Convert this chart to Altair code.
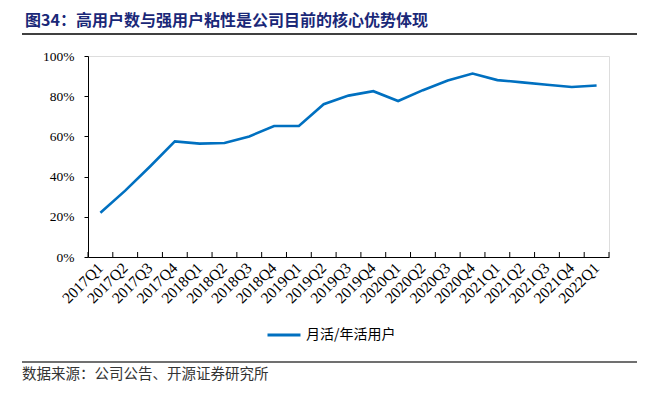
import altair as alt
import pandas as pd

quarters = ["2017Q1", "2017Q2", "2017Q3", "2017Q4", "2018Q1", "2018Q2", "2018Q3",
            "2018Q4", "2019Q1", "2019Q2", "2019Q3", "2019Q4", "2020Q1", "2020Q2",
            "2020Q3", "2020Q4", "2021Q1", "2021Q2", "2021Q3", "2021Q4", "2022Q1"]
ratio = [0.22, 0.33, 0.45, 0.575, 0.564, 0.567, 0.60, 0.652, 0.652, 0.76, 0.803,
         0.825, 0.776, 0.83, 0.878, 0.913, 0.88, 0.869, 0.857, 0.846, 0.853]
series_name = "月活/年活用户"
y_ticks = [0, 0.2, 0.4, 0.6, 0.8, 1.0]
title_text = "图34：高用户数与强用户粘性是公司目前的核心优势体现"
source_text = "数据来源：公司公告、开源证券研究所"

df = pd.DataFrame({"quarter": quarters, "ratio": ratio, "series": series_name})

W, H = 521, 201
CJK = "Noto Sans CJK SC"
SERIF = "Liberation Serif"

x_enc = alt.X("quarter:N", sort=quarters, bandPosition=0.5,
              scale=alt.Scale(type="band", paddingInner=0, paddingOuter=0),
              axis=alt.Axis(title=None, ticks=False, domain=True, domainColor="#000000",
                            labelAngle=315, labelAlign="right", labelBaseline="middle",
                            labelPadding=8, labelFont=SERIF, labelFontSize=15.5,
                            labelFontWeight="normal", labelColor="#000000", grid=False))
y_enc = alt.Y("ratio:Q", scale=alt.Scale(domain=[0, 1], nice=False),
              axis=alt.Axis(title=None, values=y_ticks, format=".0%", grid=False,
                            domainColor="#000000", tickColor="#000000", tickSize=4,
                            labelPadding=10, labelFont=SERIF, labelFontSize=13.5,
                            labelFontWeight="normal", labelColor="#000000"))

line = alt.Chart(df).mark_line(strokeWidth=2.6).encode(
    x=x_enc,
    y=y_enc,
    color=alt.Color("series:N", scale=alt.Scale(range=["#0070C0"]),
                    legend=alt.Legend(title=None, orient="none", legendX=178, legendY=261,
                                      symbolType="stroke", symbolSize=1089,
                                      symbolStrokeWidth=3, labelFont=CJK,
                                      labelFontSize=14, labelColor="#000000",
                                      labelOffset=4)),
)

ticks = alt.Chart(df).mark_rule(color="#000000", strokeWidth=1).encode(
    x=alt.X("quarter:N", sort=quarters, bandPosition=0),
    y=alt.value(H - 5),
    y2=alt.value(H),
)
end_tick = alt.Chart(df.head(1)).mark_rule(color="#000000", strokeWidth=1).encode(
    x=alt.value(W), y=alt.value(H - 5), y2=alt.value(H))

title = alt.Chart(df.head(1)).mark_text(
    text=title_text, font=CJK, fontSize=16, fontWeight="bold", color="#1A2878",
    align="left", baseline="middle").encode(x=alt.value(-63), y=alt.value(-35))
top_rule = alt.Chart(df.head(1)).mark_rule(color="#404040", strokeWidth=2).encode(
    x=alt.value(-66), x2=alt.value(549), y=alt.value(-22))
bottom_rule = alt.Chart(df.head(1)).mark_rule(color="#404040", strokeWidth=1.5).encode(
    x=alt.value(-66), x2=alt.value(549), y=alt.value(306))
source = alt.Chart(df.head(1)).mark_text(
    text=source_text, font=CJK, fontSize=14.5, color="#333333",
    align="left", baseline="middle").encode(x=alt.value(-66), y=alt.value(319))

chart = alt.layer(line, ticks, end_tick, title, top_rule, bottom_rule, source).properties(
    width=W, height=H,
    autosize=alt.AutoSizeParams(type="none"),
    padding={"left": 80, "top": 48, "right": 41, "bottom": 134},
).configure_view(stroke=None).configure_axis(
    labelFont=SERIF, labelFontWeight="normal"
).configure_text(font=CJK).configure(font=SERIF, background="white")

chart.save("out.html", embed_options={"renderer": "svg", "actions": False})
